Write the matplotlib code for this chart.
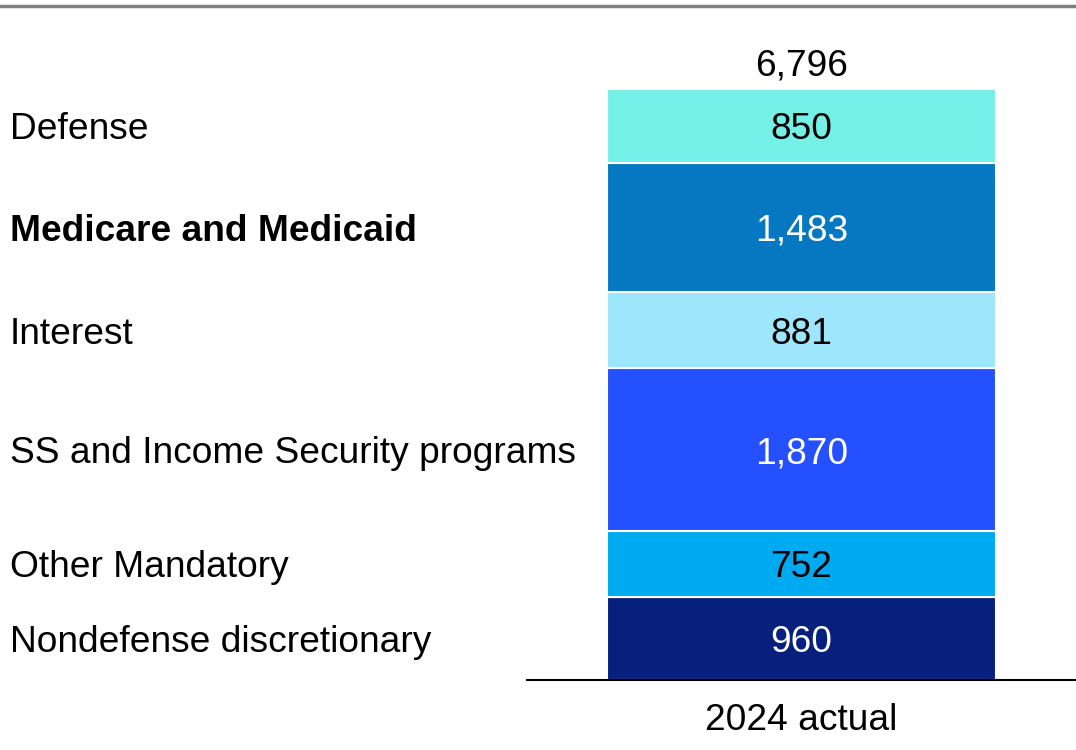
import numpy as np
import matplotlib.pyplot as plt
from matplotlib.transforms import blended_transform_factory
from matplotlib.lines import Line2D

plt.rcParams['font.family'] = ['Liberation Sans', 'DejaVu Sans']

# outlays, billions of dollars, bottom to top
categories = ["Nondefense discretionary", "Other Mandatory", "SS and Income Security programs",
              "Interest", "Medicare and Medicaid", "Defense"]
values = [960, 752, 1870, 881, 1483, 850]
colors = ["#07207E", "#00AAF0", "#2450FF", "#9DE6FB", "#0677C1", "#75F0E6"]
text_colors = ["white", "black", "white", "black", "white", "black"]
bold = [False, False, False, False, True, False]
column_label = "2024 actual"

FS = 26.7

fig = plt.figure(figsize=(10.76, 7.5), dpi=100)
ax = fig.add_axes([527 / 1076, 70 / 750, 549 / 1076, 591 / 750])

total = sum(values)
bottoms = np.concatenate([[0], np.cumsum(values)[:-1]])
ax.bar([0] * len(values), values, bottom=bottoms, width=0.71, color=colors,
       edgecolor="white", linewidth=1.5)

ax.set_xlim(-0.5, 0.5)
ax.set_ylim(0, total)

for b, v, tc in zip(bottoms, values, text_colors):
    ax.text(0, b + v / 2 - 45, f"{v:,}", ha="center", va="center", fontsize=FS, color=tc)
ax.text(0, total + 60, f"{total:,}", ha="center", va="bottom", fontsize=FS)

# category names on the left, aligned with segment centres
trans = blended_transform_factory(fig.transFigure, ax.transData)
for b, v, name, bw in zip(bottoms, values, categories, bold):
    ax.text(10 / 1076, b + v / 2 - 45, name, transform=trans, ha="left", va="center",
            fontsize=FS, fontweight="bold" if bw else "normal", clip_on=False)

ax.text(0, -265, column_label, ha="center", va="top", fontsize=FS, clip_on=False)

for s in ["top", "right", "left"]:
    ax.spines[s].set_visible(False)
ax.spines["bottom"].set_linewidth(1.5)
ax.set_xticks([])
ax.set_yticks([])
ax.patch.set_alpha(0)

# grey rule at the top
fig.add_artist(Line2D([0, 1], [1 - 6 / 750, 1 - 6 / 750], transform=fig.transFigure,
                      color="#808080", linewidth=2.5))

fig.savefig("out.png", dpi=100)
